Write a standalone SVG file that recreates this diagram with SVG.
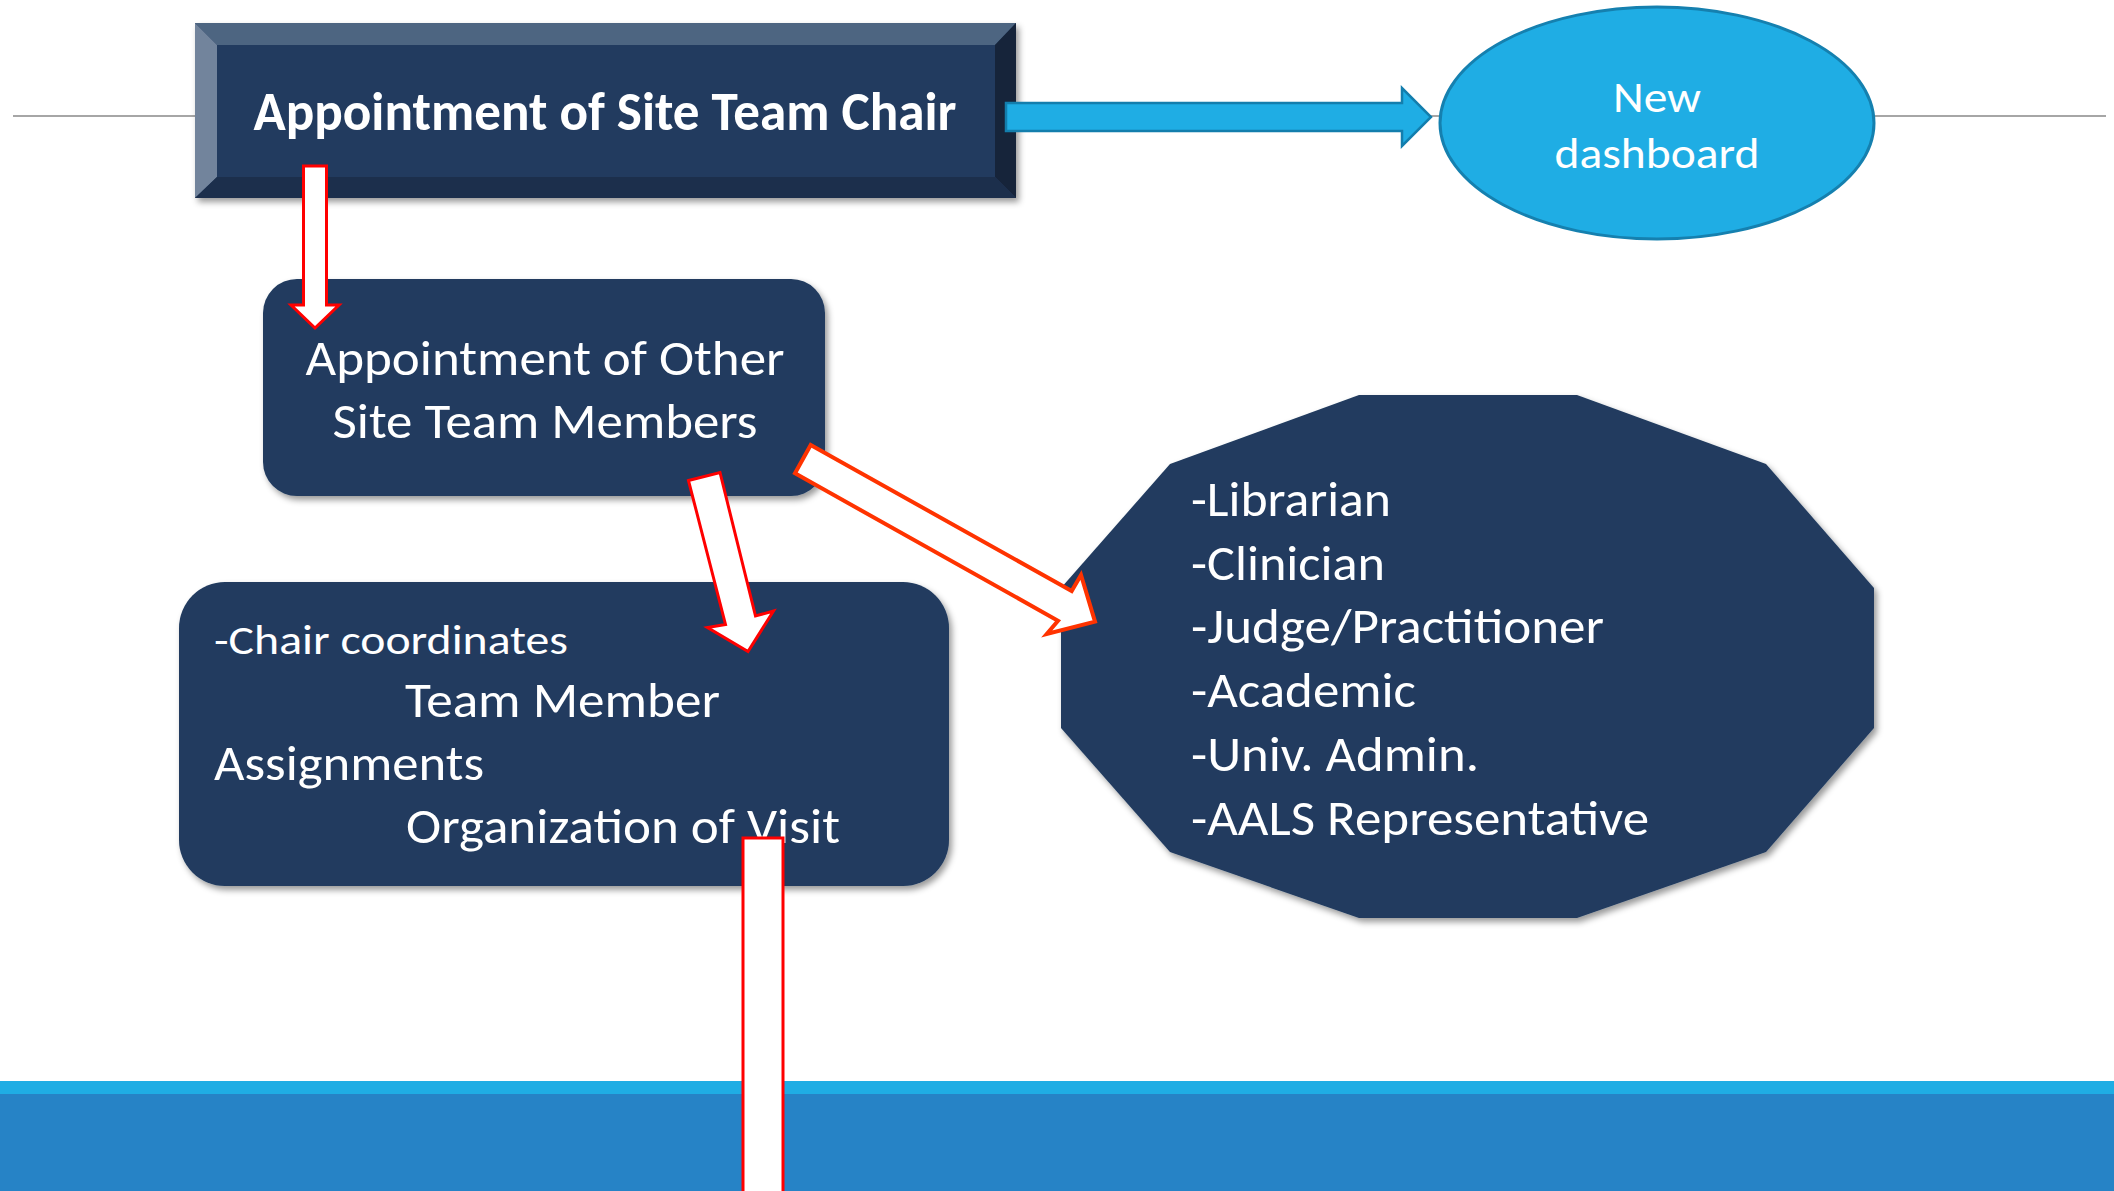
<svg xmlns="http://www.w3.org/2000/svg" width="2114" height="1191" viewBox="0 0 2114 1191">
  <defs>
    <filter id="shadow" x="-5%" y="-5%" width="112%" height="115%">
      <feDropShadow dx="3" dy="4" stdDeviation="3" flood-color="#000" flood-opacity="0.4"/>
    </filter>
    <style>
      .navy { fill: #203B5F; }
      .label { font-family: Carlito, Lato, "Open Sans", sans-serif; fill: #FFFFFF; }
      .title { font-weight: bold; font-size: 54px; }
      .big { font-size: 50px; }
      .small { font-size: 40px; }
      .list { font-size: 49px; }
      .oval { font-size: 44px; }
      .red-arrow { fill: #FFFFFF; stroke: #FF0000; stroke-width: 3; stroke-linejoin: miter; }
      .orange-arrow { fill: #FFFFFF; stroke: #FF3300; stroke-width: 4; stroke-linejoin: miter; }
      .blue-arrow { fill: #1FADE4; stroke: #137EAD; stroke-width: 2.5; }
    </style>
  </defs>

  <!-- page background -->
  <rect x="0" y="0" width="2114" height="1191" fill="#FFFFFF"/>

  <!-- thin rule through the header -->
  <line x1="13" y1="116" x2="2106" y2="116" stroke="#A6A6A6" stroke-width="2"/>

  <!-- footer bands -->
  <rect x="0" y="1081" width="2114" height="14" fill="#1FADE4"/>
  <rect x="0" y="1094" width="2114" height="97" fill="#2683C6"/>

  <!-- bevelled title block -->
  <g id="chair">
    <g filter="url(#shadow)">
      <rect x="195" y="23" width="821" height="175" fill="#213A5E"/>
    </g>
    <polygon points="195,23 1016,23 995,45 217,45" fill="#4D6581"/>
    <polygon points="195,23 217,45 217,177 195,198" fill="#72849C"/>
    <polygon points="1016,23 1016,198 995,177 995,45" fill="#16243A"/>
    <polygon points="195,198 1016,198 995,177 217,177" fill="#1C2F4C"/>
    <text class="label title" x="605" y="130" text-anchor="middle" textLength="703" lengthAdjust="spacingAndGlyphs">Appointment of Site Team Chair</text>
  </g>

  <!-- dashboard oval -->
  <g id="dashboard">
    <ellipse cx="1657" cy="123" rx="217" ry="116" fill="#1FADE4" stroke="#1580AF" stroke-width="3"/>
    <text class="label oval" x="1657" y="112" text-anchor="middle" textLength="88" lengthAdjust="spacingAndGlyphs">New</text>
    <text class="label oval" x="1657" y="168" text-anchor="middle" textLength="205" lengthAdjust="spacingAndGlyphs">dashboard</text>
  </g>

  <!-- other members box -->
  <g id="members">
    <rect class="navy" x="263" y="279" width="562" height="217" rx="34" ry="34" filter="url(#shadow)"/>
    <text class="label big" x="545" y="375" text-anchor="middle" textLength="479" lengthAdjust="spacingAndGlyphs">Appointment of Other</text>
    <text class="label big" x="545" y="438" text-anchor="middle" textLength="425" lengthAdjust="spacingAndGlyphs">Site Team Members</text>
  </g>

  <!-- coordination box -->
  <g id="coordination">
    <rect class="navy" x="179" y="582" width="770" height="304" rx="46" ry="46" filter="url(#shadow)"/>
    <text class="label small" x="214" y="654" textLength="354" lengthAdjust="spacingAndGlyphs">-Chair coordinates</text>
    <text class="label big" x="405" y="717" textLength="315" lengthAdjust="spacingAndGlyphs">Team Member</text>
    <text class="label big" x="214" y="780" textLength="270" lengthAdjust="spacingAndGlyphs">Assignments</text>
    <text class="label big" x="406" y="843" textLength="434" lengthAdjust="spacingAndGlyphs">Organization of Visit</text>
  </g>

  <!-- team roles dodecagon -->
  <g id="roles">
    <polygon class="navy" points="1359,395 1577,395 1766,464 1874,588 1874,728 1766,852 1577,918 1359,918 1170,852 1061,728 1061,588 1170,464" filter="url(#shadow)"/>
    <text class="label list" x="1191" y="516" textLength="200" lengthAdjust="spacingAndGlyphs">-Librarian</text>
    <text class="label list" x="1191" y="580" textLength="194" lengthAdjust="spacingAndGlyphs">-Clinician</text>
    <text class="label list" x="1191" y="643" textLength="413" lengthAdjust="spacingAndGlyphs">-Judge/Practitioner</text>
    <text class="label list" x="1191" y="707" textLength="225" lengthAdjust="spacingAndGlyphs">-Academic</text>
    <text class="label list" x="1191" y="771" textLength="288" lengthAdjust="spacingAndGlyphs">-Univ. Admin.</text>
    <text class="label list" x="1191" y="835" textLength="458" lengthAdjust="spacingAndGlyphs">-AALS Representative</text>
  </g>

  <!-- block arrows -->
  <g id="connectors">
    <polygon class="blue-arrow" points="1006,103 1402,103 1402,88 1431,117 1402,146 1402,131 1006,131"/>
    <polygon class="red-arrow" points="303.5,166 326.5,166 326.5,305 339,305 315,328 291,305 303.5,305"/>
    <polygon class="red-arrow" points="688.5,480.5 720,472.5 755.5,616 773.5,611 748,651.5 707.5,627.5 725.5,624.5"/>
    <polygon class="orange-arrow" points="810.7,445 1071.7,591 1081,575 1095,621.7 1046.7,634 1058,620.7 795,473.3"/>
    <rect class="red-arrow" x="743" y="838" width="40" height="370"/>
  </g>
</svg>
